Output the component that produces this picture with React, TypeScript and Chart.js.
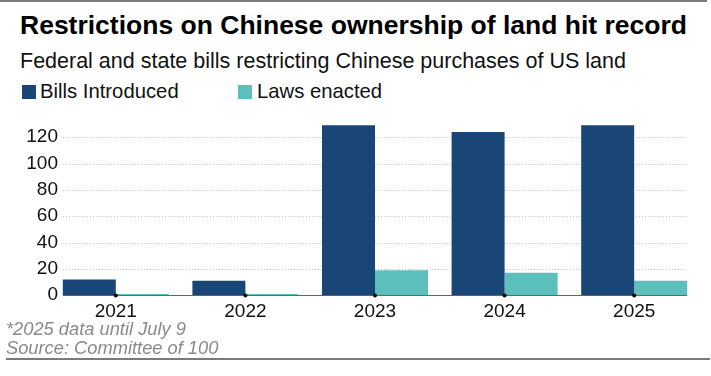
import React, { useEffect, useRef } from "react";
import { Chart, registerables } from "chart.js";

Chart.register(...registerables);

const categories = ["2021", "2022", "2023", "2024", "2025"];
const billsIntroduced = [12, 11, 129, 124, 129];
const lawsEnacted = [1, 1, 19, 17, 11];
const yTicks = [0, 20, 40, 60, 80, 100, 120];

const seriesNames = ["Bills Introduced", "Laws enacted"];
const BLUE = "#1a4677";
const TEAL = "#5bbfbb";
const FONT = "'Liberation Sans', Arial, Helvetica, sans-serif";

const refLines = {
  id: "refLines",
  beforeDatasetsDraw(chart: any) {
    const { ctx, scales } = chart;
    const y = scales.y;
    const m0 = chart.getDatasetMeta(0);
    const m1 = chart.getDatasetMeta(1);
    const first = m0.data[0];
    const last = m1.data[m1.data.length - 1];
    const left = first.x - first.width / 2;
    const right = last.x + last.width / 2;
    ctx.save();
    ctx.lineWidth = 1;
    ctx.strokeStyle = "#bdbdbd";
    ctx.setLineDash([1, 2]);
    y.ticks.forEach((t: any) => {
      if (t.value === 0) return;
      const py = Math.round(y.getPixelForValue(t.value)) + 0.5;
      ctx.beginPath();
      ctx.moveTo(left, py);
      ctx.lineTo(right, py);
      ctx.stroke();
    });
    ctx.setLineDash([]);
    ctx.strokeStyle = "#666";
    const p0 = Math.round(y.getPixelForValue(0)) + 0.5;
    ctx.beginPath();
    ctx.moveTo(left, p0);
    ctx.lineTo(right, p0);
    ctx.stroke();
    ctx.restore();
  },
  afterDatasetsDraw(chart: any) {
    const { ctx, scales } = chart;
    const x = scales.x;
    const y = scales.y;
    const p0 = Math.round(y.getPixelForValue(0)) + 0.5;
    ctx.save();
    ctx.fillStyle = "#000";
    categories.forEach((_, i) => {
      ctx.beginPath();
      ctx.arc(x.getPixelForValue(i), p0, 2, 0, Math.PI * 2);
      ctx.fill();
    });
    ctx.restore();
  },
};

export default function App() {
  const canvasRef = useRef<HTMLCanvasElement | null>(null);

  useEffect(() => {
    if (!canvasRef.current) return;
    const chart = new Chart(canvasRef.current, {
      type: "bar",
      data: {
        labels: categories,
        datasets: [
          {
            label: seriesNames[0],
            data: billsIntroduced,
            backgroundColor: BLUE,
            borderWidth: 0,
            barPercentage: 1,
            categoryPercentage: 0.818,
          },
          {
            label: seriesNames[1],
            data: lawsEnacted,
            backgroundColor: TEAL,
            borderWidth: 0,
            barPercentage: 1,
            categoryPercentage: 0.818,
          },
        ],
      },
      options: {
        animation: false,
        responsive: false,
        maintainAspectRatio: false,
        layout: { padding: { left: 0, right: 12, top: 14, bottom: 2 } },
        plugins: {
          legend: { display: false },
          tooltip: { enabled: false },
          title: { display: false },
        },
        scales: {
          x: {
            grid: { display: false, drawTicks: false },
            border: { display: false },
            ticks: {
              padding: 5,
              color: "#111",
              font: { family: FONT, size: 19 },
            },
          },
          y: {
            min: 0,
            max: 130,
            grid: { display: false, drawTicks: false },
            border: { display: false },
            afterFit: (scale: any) => {
              scale.width = 51;
            },
            afterBuildTicks: (scale: any) => {
              scale.ticks = yTicks.map((v) => ({ value: v }));
            },
            ticks: {
              mirror: true,
              crossAlign: "far",
              padding: -24.7,
              color: "#111",
              font: { family: FONT, size: 19 },
            },
          },
        },
      },
      plugins: [refLines],
    });
    return () => chart.destroy();
  }, []);

  const base: React.CSSProperties = {
    position: "absolute",
    fontFamily: FONT,
    whiteSpace: "nowrap",
    lineHeight: 1,
    margin: 0,
  };

  return (
    <div
      style={{
        position: "absolute",
        left: 0,
        top: 0,
        width: 711,
        height: 376,
        background: "#fff",
        overflow: "hidden",
      }}
    >
      <div style={{ position: "absolute", left: 0, top: 0, width: 707, height: 2, background: "#7a7a7a" }} />
      <div style={{ ...base, left: 20, top: 11.6, fontSize: 26.5, fontWeight: 700, color: "#000" }}>
        Restrictions on Chinese ownership of land hit record
      </div>
      <div style={{ ...base, left: 20, top: 50.8, fontSize: 21.5, color: "#111" }}>
        Federal and state bills restricting Chinese purchases of US land
      </div>
      <div style={{ position: "absolute", left: 22, top: 84.5, width: 14, height: 14, background: BLUE }} />
      <div style={{ ...base, left: 40, top: 81.2, fontSize: 20.3, color: "#111" }}>{seriesNames[0]}</div>
      <div style={{ position: "absolute", left: 238, top: 84.5, width: 14, height: 14, background: TEAL }} />
      <div style={{ ...base, left: 257, top: 81.2, fontSize: 20.3, color: "#111" }}>{seriesNames[1]}</div>
      <canvas
        ref={canvasRef}
        width={711}
        height={220}
        style={{ position: "absolute", left: 0, top: 110, width: 711, height: 220 }}
      />
      <div style={{ ...base, left: 6, top: 319.5, fontSize: 18.3, fontStyle: "italic", color: "#8a8a8a" }}>
        *2025 data until July 9
      </div>
      <div style={{ ...base, left: 6, top: 338.5, fontSize: 18.3, fontStyle: "italic", color: "#8a8a8a" }}>
        Source: Committee of 100
      </div>
      <div style={{ position: "absolute", left: 6, top: 358, width: 704, height: 2, background: "#7a7a7a" }} />
    </div>
  );
}
